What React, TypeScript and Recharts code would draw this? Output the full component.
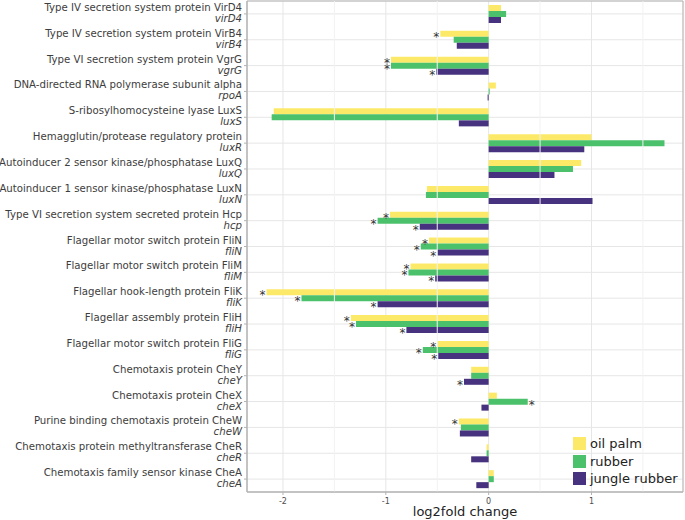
import React from 'react';
import {
    BarChart,
    Bar,
    XAxis,
    YAxis,
    CartesianGrid,
    ReferenceLine,
    ReferenceArea,
} from 'recharts';

// categories, top to bottom
const proteins = [
    'Type IV secretion system protein VirD4',
    'Type IV secretion system protein VirB4',
    'Type VI secretion system protein VgrG',
    'DNA-directed RNA polymerase subunit alpha',
    'S-ribosylhomocysteine lyase LuxS',
    'Hemagglutin/protease regulatory protein',
    'Autoinducer 2 sensor kinase/phosphatase LuxQ',
    'Autoinducer 1 sensor kinase/phosphatase LuxN',
    'Type VI secretion system secreted protein Hcp',
    'Flagellar motor switch protein FliN',
    'Flagellar motor switch protein FliM',
    'Flagellar hook-length protein FliK',
    'Flagellar assembly protein FliH',
    'Flagellar motor switch protein FliG',
    'Chemotaxis protein CheY',
    'Chemotaxis protein CheX',
    'Purine binding chemotaxis protein CheW',
    'Chemotaxis protein methyltransferase CheR',
    'Chemotaxis family sensor kinase CheA',
];
const genes = [
    'virD4', 'virB4', 'vgrG', 'rpoA', 'luxS', 'luxR', 'luxQ', 'luxN', 'hcp', 'fliN',
    'fliM', 'fliK', 'fliH', 'fliG', 'cheY', 'cheX', 'cheW', 'cheR', 'cheA',
];

// log2 fold change per habitat
const oilPalm = [
    0.12, -0.47, -0.95, 0.07, -2.09, 1.0, 0.9, -0.6, -0.96, -0.58,
    -0.76, -2.16, -1.34, -0.5, -0.17, 0.08, -0.29, -0.02, 0.05,
];
const rubber = [
    0.17, -0.34, -0.95, 0.01, -2.11, 1.71, 0.82, -0.61, -1.08, -0.66,
    -0.78, -1.82, -1.29, -0.64, -0.17, 0.38, -0.27, -0.02, 0.05,
];
const jungleRubber = [
    0.12, -0.31, -0.51, -0.01, -0.29, 0.93, 0.64, 1.01, -0.67, -0.5,
    -0.52, -1.08, -0.8, -0.49, -0.24, -0.07, -0.28, -0.17, -0.12,
];

// significance markers (*)
const sigOilPalm = [0, 1, 1, 0, 0, 0, 0, 0, 1, 1, 1, 1, 1, 1, 0, 0, 1, 0, 0];
const sigRubber = [0, 0, 1, 0, 0, 0, 0, 0, 1, 1, 1, 1, 1, 1, 0, 1, 0, 0, 0];
const sigJungle = [0, 0, 1, 0, 0, 0, 0, 0, 1, 1, 1, 1, 1, 1, 1, 0, 0, 0, 0];

const xTicks = [-2, -1, 0, 1];
const minorTicks = [-1.5, -0.5, 0.5, 1.5];

const series = [
    { key: 'oilPalm', name: 'oil palm', color: '#FDE968', sig: sigOilPalm },
    { key: 'rubber', name: 'rubber', color: '#4CC16C', sig: sigRubber },
    { key: 'jungleRubber', name: 'jungle rubber', color: '#46327E', sig: sigJungle },
];

const data = proteins.map((p, i) => ({
    protein: p,
    gene: genes[i],
    oilPalm: oilPalm[i],
    rubber: rubber[i],
    jungleRubber: jungleRubber[i],
}));

const FONT = '"DejaVu Sans", sans-serif';

const CategoryTick = (props: any) => {
    const { x, y, payload } = props;
    const i = payload.index;
    return (
        <g>
            <text x={x} y={y - 3} textAnchor="end" fontSize={10.2} fill="#3d3d3d" fontFamily={FONT}>
                {proteins[i]}
            </text>
            <text x={x} y={y + 8} textAnchor="end" fontSize={10.2} fill="#3d3d3d" fontFamily={FONT} fontStyle="italic">
                {genes[i]}
            </text>
        </g>
    );
};

const starLabel = (sig: number[]) => (props: any) => {
    const { x, y, width, height, index } = props;
    if (!sig[index]) return null;
    const endX = x + width;
    const neg = width < 0 || props.value < 0;
    return (
        <text
            x={neg ? endX - 1 : endX + 1}
            y={y + height / 2 + 7}
            textAnchor={neg ? 'end' : 'start'}
            fontSize={12}
            fill="#333"
            fontFamily={FONT}
        >
            *
        </text>
    );
};

const App = () => {
    return (
        <div style={{ position: 'absolute', left: 0, top: 0, width: 685, height: 520 }}>
            <BarChart
                width={685}
                height={520}
                data={data}
                layout="vertical"
                margin={{ top: 1, right: 2, left: 0, bottom: 0 }}
                barGap={0}
                barSize={6}
            >
                <CartesianGrid stroke="#E6E6E6" vertical={true} horizontal={true} />
                {minorTicks.map((t) => (
                    <ReferenceLine key={t} x={t} stroke="#F2F2F2" />
                ))}
                <XAxis
                    type="number"
                    domain={[-2.35, 1.89]}
                    ticks={xTicks}
                    allowDataOverflow
                    height={28}
                    tickSize={3}
                    tickMargin={3}
                    stroke="#B3B3B3"
                    tick={{ fontSize: 8, fill: '#4D4D4D', fontFamily: FONT }}
                    label={{
                        value: 'log2fold change',
                        position: 'insideBottom',
                        offset: 4,
                        fontSize: 13,
                        fill: '#222',
                        fontFamily: FONT,
                    }}
                />
                <YAxis
                    type="category"
                    dataKey="protein"
                    width={247}
                    tickSize={3}
                    tickMargin={2}
                    stroke="#B3B3B3"
                    interval={0}
                    tick={<CategoryTick />}
                />
                {series.map((s) => (
                    <Bar
                        key={s.key}
                        dataKey={s.key}
                        name={s.name}
                        fill={s.color}
                        isAnimationActive={false}
                        label={starLabel(s.sig)}
                    />
                ))}
                <ReferenceArea x1={-2.35} x2={1.89} fill="none" stroke="#B3B3B3" ifOverflow="visible" />
            </BarChart>
            <div
                style={{
                    position: 'absolute',
                    left: 573,
                    top: 435,
                    fontFamily: FONT,
                    fontSize: 13,
                    color: '#222',
                }}
            >
                {series.map((s) => (
                    <div key={s.key} style={{ display: 'flex', alignItems: 'center', height: 17.5 }}>
                        <span style={{ width: 13, height: 13, background: s.color, marginRight: 4 }} />
                        <span>{s.name}</span>
                    </div>
                ))}
            </div>
        </div>
    );
};

export default App;
